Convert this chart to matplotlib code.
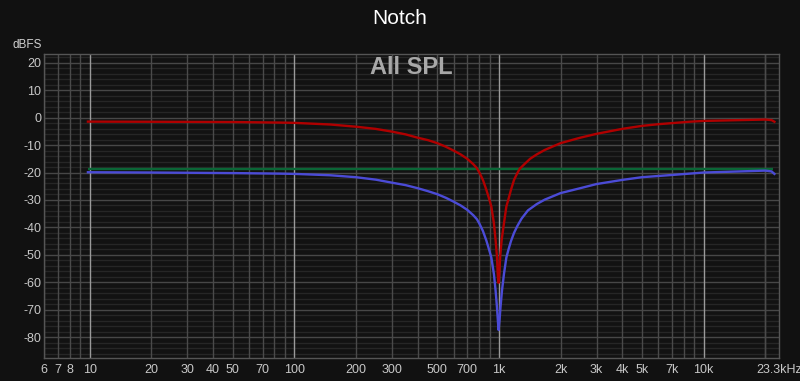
import matplotlib
matplotlib.use("Agg")
import matplotlib.pyplot as plt

plt.rcParams['font.family'] = ['Liberation Sans', 'DejaVu Sans']

# red curve (dBFS)
freq_red = [9.8, 10, 20, 50, 85, 100, 150, 200, 250, 300, 350, 400, 450, 500, 550, 600, 650,
            700, 750, 780, 805, 835, 868, 895, 918, 945, 963, 978, 986, 995,
            1004, 1014, 1031, 1058, 1087, 1115, 1145, 1185, 1230, 1265, 1330, 1420, 1530,
            1672, 2000, 2500, 3000, 4000, 5000, 6000, 7000, 8500, 10000, 15000, 20000,
            21500, 22200]
spl_red = [-1.45, -1.45, -1.5, -1.6, -1.8, -1.9, -2.5, -3.3, -4.1, -5.1, -6.1, -7.3, -8.2,
           -9.3, -10.6, -12.0, -13.4, -15.0, -17.0, -18.4, -20.2, -22.7, -26.3, -29.5, -32.4,
           -38.5, -44.6, -50.6, -56.7, -60.2,
           -56.7, -50.6, -44.6, -38.5, -32.4, -29.5, -26.3, -22.7, -20.2, -18.6, -17.0, -15.0,
           -13.4, -11.8, -9.3, -7.3, -5.9, -4.1, -3.0, -2.4, -2.0, -1.5, -1.2, -0.9, -0.7,
           -0.9, -1.5]

# blue curve
freq_blue = [9.8, 10, 20, 50, 85, 100, 150, 200, 250, 300, 350, 400, 450, 500, 550, 600, 650,
             700, 750, 780, 805, 835, 868, 895, 918, 945, 963, 978, 988, 996,
             1006, 1018, 1035, 1058, 1087, 1115, 1145, 1185, 1230, 1290, 1386, 1530,
             1672, 2000, 2500, 3000, 4000, 5000, 7000, 10000, 15000, 20000, 21500, 22200]
spl_blue = [-19.9, -19.9, -20.0, -20.2, -20.4, -20.5, -21.0, -21.7, -22.6, -23.7, -24.6, -25.7,
            -26.8, -27.9, -29.2, -30.6, -32.0, -33.6, -35.6, -37.0, -38.8, -41.3, -44.8, -48.1,
            -51.0, -57.0, -63.0, -69.0, -74.0, -77.4,
            -74.0, -69.0, -63.0, -57.0, -51.0, -47.9, -45.0, -42.0, -39.5, -36.8, -33.8,
            -31.5, -29.9, -27.5, -25.7, -24.2, -22.7, -21.7, -20.9, -20.0, -19.6, -19.3,
            -19.6, -20.5]

# green flat line
freq_green = [9.8, 21800]
spl_green = [-18.6, -18.6]

xtick_pos = [6, 7, 8, 10, 20, 30, 40, 50, 70, 100, 200, 300, 500, 700, 1000, 2000, 3000,
             4000, 5000, 7000, 10000, 23300]
xtick_lab = ['6', '7', '8', '10', '20', '30', '40', '50', '70', '100', '200', '300', '500',
             '700', '1k', '2k', '3k', '4k', '5k', '7k', '10k', '23.3kHz']
yticks = [20, 10, 0, -10, -20, -30, -40, -50, -60, -70, -80]

bg = '#111111'
fig = plt.figure(figsize=(8, 3.81), dpi=100, facecolor=bg)
ax = fig.add_axes([0.0554, 0.0596, 0.918, 0.798], facecolor='#121212')

ax.set_xscale('log')
ax.set_xlim(6, 23300)
ax.set_ylim(-87.7, 23.1)

# grid
for d in range(-86, 23, 2):
    if d % 10 == 0:
        ax.axhline(d, color='#474747', lw=1, zorder=1)
    else:
        ax.axhline(d, color='#262626', lw=1, zorder=0.5)
for dec in [1, 10, 100, 1000, 10000]:
    for m in range(1, 10):
        f = dec * m
        if f < 6 or f > 23300:
            continue
        if m == 1:
            ax.axvline(f, color='#9a9a9a', lw=1, zorder=1.2)
        else:
            ax.axvline(f, color='#4a4a4a', lw=1, zorder=1.1)
ax.axvline(20000, color='#4a4a4a', lw=1, zorder=1.1)

ax.plot(freq_green, spl_green, color='#0a6636', lw=1.7, zorder=3, solid_capstyle='butt')
ax.plot(freq_blue, spl_blue, color='#4b4bd6', lw=1.7, zorder=4)
ax.plot(freq_red, spl_red, color='#b00000', lw=1.7, zorder=5)

ax.set_xticks(xtick_pos)
ax.set_xticklabels(xtick_lab)
ax.xaxis.set_minor_locator(matplotlib.ticker.NullLocator())
ax.set_yticks(yticks)
ax.set_yticklabels([str(v) for v in yticks])
ax.tick_params(axis='both', length=0, colors='#c8c8c8', labelsize=9)
ax.tick_params(axis='x', pad=4)
ax.tick_params(axis='y', pad=2)
for s in ax.spines.values():
    s.set_color('#555555')
    s.set_linewidth(1)

fig.text(0.5, 0.952, 'Notch', ha='center', va='center', color='white', fontsize=15)
fig.text(0.016, 0.882, 'dBFS', ha='left', va='center', color='#d0d0d0', fontsize=8.5)
ax.text(0.5, 0.958, 'All SPL', transform=ax.transAxes, ha='center', va='center',
        color='#a8a8a8', fontsize=17, fontweight='bold', zorder=6)

fig.savefig('out.png', dpi=100, facecolor=bg)
